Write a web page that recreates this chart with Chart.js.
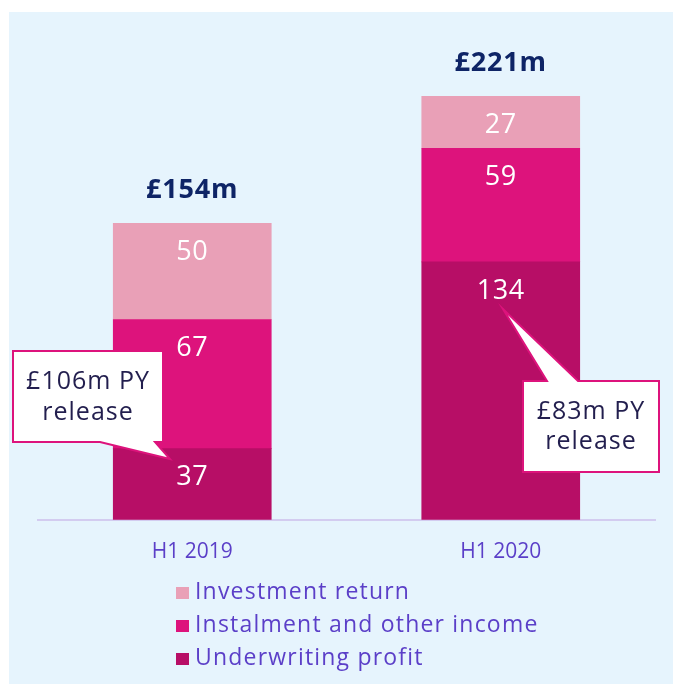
<!DOCTYPE html>
<html><head><meta charset="utf-8">
<script src="https://cdn.jsdelivr.net/npm/chart.js@4"></script>
<style>html,body{margin:0;padding:0;background:#fff}#wrap{position:absolute;left:0;top:0;width:673px;height:684px}</style>
</head><body><div id="wrap"><canvas id="c" width="673" height="684"></canvas></div>
<script>
const categories = ['H1 2019', 'H1 2020'];
const underwriting = [37, 134];
const instalment = [67, 59];
const investment = [50, 27];
const totals = ['£154m', '£221m'];
const seriesNames = ['Underwriting profit', 'Instalment and other income', 'Investment return'];
const colors = ['#B70E66', '#DD137C', '#E9A0B7'];
const callouts = [
  {bar: 0, lines: ['£106m PY', 'release']},
  {bar: 1, lines: ['£83m PY', 'release']}
];
const FONT = "'Open Sans', sans-serif";

const bgPlugin = {
  id: 'bg',
  beforeDraw(chart) {
    const ctx = chart.ctx;
    ctx.save();
    ctx.fillStyle = '#E6F4FD';
    ctx.fillRect(9, 12, chart.width - 9, chart.height - 12);
    ctx.restore();
  }
};

const labelPlugin = {
  id: 'labels',
  afterDatasetsDraw(chart) {
    const ctx = chart.ctx;
    ctx.save();
    ctx.textAlign = 'center';
    ctx.textBaseline = 'middle';
    chart.data.datasets.forEach((ds, di) => {
      const meta = chart.getDatasetMeta(di);
      meta.data.forEach((el, i) => {
        ctx.fillStyle = '#FFFFFF';
        ctx.font = '27px ' + FONT;
        ctx.letterSpacing = '0.5px';
        ctx.fillText(String(ds.data[i]), el.x, el.y + 29);
      });
    });
    // totals
    const topMeta = chart.getDatasetMeta(chart.data.datasets.length - 1);
    topMeta.data.forEach((el, i) => {
      ctx.fillStyle = '#0E2466';
      ctx.font = 'bold 27px ' + FONT;
      ctx.letterSpacing = '0.8px';
      ctx.fillText(totals[i], el.x, el.y - 33);
    });
    // callouts
    const shapes = [
      {pts: [[13,351],[163,351],[163,442],[155,442],[170,459],[100,442],[13,442]], cx: 88, ly: [382, 413]},
      {pts: [[523,381],[547,381],[503,309],[578,381],[659,381],[659,472],[523,472]], cx: 591, ly: [412, 442]}
    ];
    shapes.forEach((s, k) => {
      ctx.beginPath();
      s.pts.forEach((p, j) => j ? ctx.lineTo(p[0], p[1]) : ctx.moveTo(p[0], p[1]));
      ctx.closePath();
      ctx.fillStyle = '#FFFFFF';
      ctx.fill();
      ctx.strokeStyle = '#DD137C';
      ctx.lineWidth = 2;
      ctx.lineJoin = 'miter';
      ctx.stroke();
      ctx.fillStyle = '#221E4E';
      ctx.font = '25px ' + FONT;
      ctx.letterSpacing = '1px';
      callouts[k].lines.forEach((t, j) => ctx.fillText(t, s.cx, s.ly[j]));
    });
    // legend
    ctx.textAlign = 'left';
    ctx.letterSpacing = '1.2px';
    const ys = [593, 626, 659];
    for (let j = 0; j < 3; j++) {
      const di = 2 - j;
      ctx.fillStyle = colors[di];
      ctx.fillRect(176, ys[j] - 6, 13, 12);
      ctx.fillStyle = '#5B3FC8';
      ctx.font = '23px ' + FONT;
      ctx.fillText(seriesNames[di], 195, ys[j] - 1);
    }
    ctx.restore();
  }
};

new Chart(document.getElementById('c'), {
  type: 'bar',
  data: {
    labels: categories,
    datasets: [
      {label: seriesNames[0], data: underwriting, backgroundColor: colors[0]},
      {label: seriesNames[1], data: instalment, backgroundColor: colors[1]},
      {label: seriesNames[2], data: investment, backgroundColor: colors[2]}
    ]
  },
  options: {
    responsive: false,
    animation: false,
    layout: {padding: {left: 38, right: 18, top: 38.5, bottom: 99}},
    datasets: {bar: {barThickness: 158, borderWidth: 0}},
    plugins: {legend: {display: false}, tooltip: {enabled: false}},
    scales: {
      x: {
        stacked: true,
        grid: {display: false, drawTicks: false},
        border: {display: true, color: '#D3CCF0', width: 2},
        ticks: {color: '#5B3FC8', font: {family: FONT, size: 21}, padding: 20}
      },
      y: {stacked: true, display: false, min: 0, max: 250}
    }
  },
  plugins: [bgPlugin, labelPlugin]
});
</script></body></html>
